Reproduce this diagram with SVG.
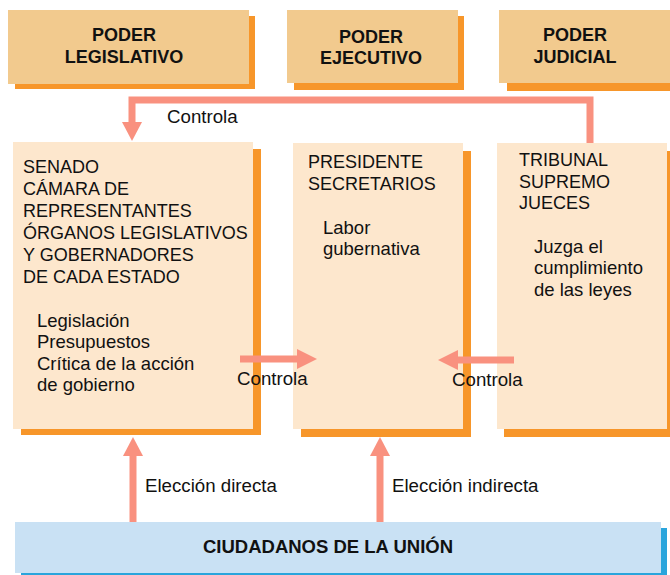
<svg xmlns="http://www.w3.org/2000/svg" width="670" height="575" viewBox="0 0 670 575">
<style>
text{font-family:"Liberation Sans",Arial,sans-serif;fill:#111}
.h{font-size:18px;font-weight:bold;text-anchor:middle}
.t{font-size:18px}
.s{font-size:18.5px}
.lbl{font-size:18.7px}
.top{fill:#F2CA8E}
.mid{fill:#FDE7CD}
.sh{fill:#F7962A}
.conn{stroke:#F9917F;fill:none;stroke-width:7}
.head{fill:#F9917F}
</style>
<rect width="670" height="575" fill="#fff"/>
<g id="poder-legislativo">
<rect class="sh" x="15" y="16" width="240" height="73"/>
<rect class="top" x="8" y="10" width="241" height="74"/>
<text class="h" x="124" y="41">PODER</text>
<text class="h" x="124" y="63">LEGISLATIVO</text>
</g>
<g id="poder-ejecutivo">
<rect class="sh" x="294" y="16" width="170" height="74"/>
<rect class="top" x="287" y="10" width="171" height="73"/>
<text class="h" x="371" y="43">PODER</text>
<text class="h" x="371" y="64">EJECUTIVO</text>
</g>
<g id="poder-judicial">
<rect class="sh" x="507" y="17" width="170" height="74"/>
<rect class="top" x="499" y="10" width="180" height="73"/>
<text class="h" x="575" y="41">PODER</text>
<text class="h" x="575" y="63">JUDICIAL</text>
</g>
<g id="legislativo">
<rect class="sh" x="21" y="149" width="240" height="286"/>
<rect class="mid" x="13" y="142" width="240" height="287"/>
<text class="t" x="23" y="173">SENADO</text>
<text class="t" x="23" y="195">CÁMARA DE</text>
<text class="t" x="23" y="217">REPRESENTANTES</text>
<text class="t" x="23" y="239">ÓRGANOS LEGISLATIVOS</text>
<text class="t" x="23" y="261">Y GOBERNADORES</text>
<text class="t" x="23" y="283">DE CADA ESTADO</text>
<text class="s" x="37" y="327">Legislación</text>
<text class="s" x="37" y="348">Presupuestos</text>
<text class="s" x="37" y="370">Crítica de la acción</text>
<text class="s" x="37" y="391">de gobierno</text>
</g>
<g id="ejecutivo">
<rect class="sh" x="301" y="151" width="170" height="286"/>
<rect class="mid" x="293" y="143" width="170" height="286"/>
<text class="t" x="308" y="168">PRESIDENTE</text>
<text class="t" x="308" y="190">SECRETARIOS</text>
<text class="s" x="323" y="234">Labor</text>
<text class="s" x="323" y="255">gubernativa</text>
</g>
<g id="judicial">
<rect class="sh" x="504" y="151" width="170" height="286"/>
<rect class="mid" x="497" y="143" width="170" height="286"/>
<text class="t" x="519" y="166">TRIBUNAL</text>
<text class="t" x="519" y="188">SUPREMO</text>
<text class="t" x="519" y="209">JUECES</text>
<text class="s" x="534" y="253">Juzga el</text>
<text class="s" x="534" y="274">cumplimiento</text>
<text class="s" x="534" y="296">de las leyes</text>
</g>
<g id="ciudadanos">
<rect fill="#2AA5DC" x="21" y="528" width="646" height="47"/>
<rect fill="#C9E1F4" x="15" y="522" width="646" height="51"/>
<text class="h" x="328" y="553" style="font-size:18.5px">CIUDADANOS DE LA UNIÓN</text>
</g>
<g id="connectors">
<path class="conn" d="M590 143V100H132V124"/>
<polygon class="head" points="122,122 142,122 132,141"/>
<text class="lbl" x="167" y="123">Controla</text>
<path class="conn" d="M240 359H299"/>
<polygon class="head" points="297,349 297,369 317,359"/>
<text class="lbl" x="237" y="385">Controla</text>
<path class="conn" d="M514 360H456"/>
<polygon class="head" points="458,350 458,370 438,360"/>
<text class="lbl" x="452" y="386">Controla</text>
<path class="conn" d="M133 522V454"/>
<polygon class="head" points="123,456 143,456 133,437"/>
<text class="lbl" x="145" y="492">Elección directa</text>
<path class="conn" d="M380 522V454"/>
<polygon class="head" points="370,456 390,456 380,437"/>
<text class="lbl" x="392" y="492">Elección indirecta</text>
</g>
</svg>
